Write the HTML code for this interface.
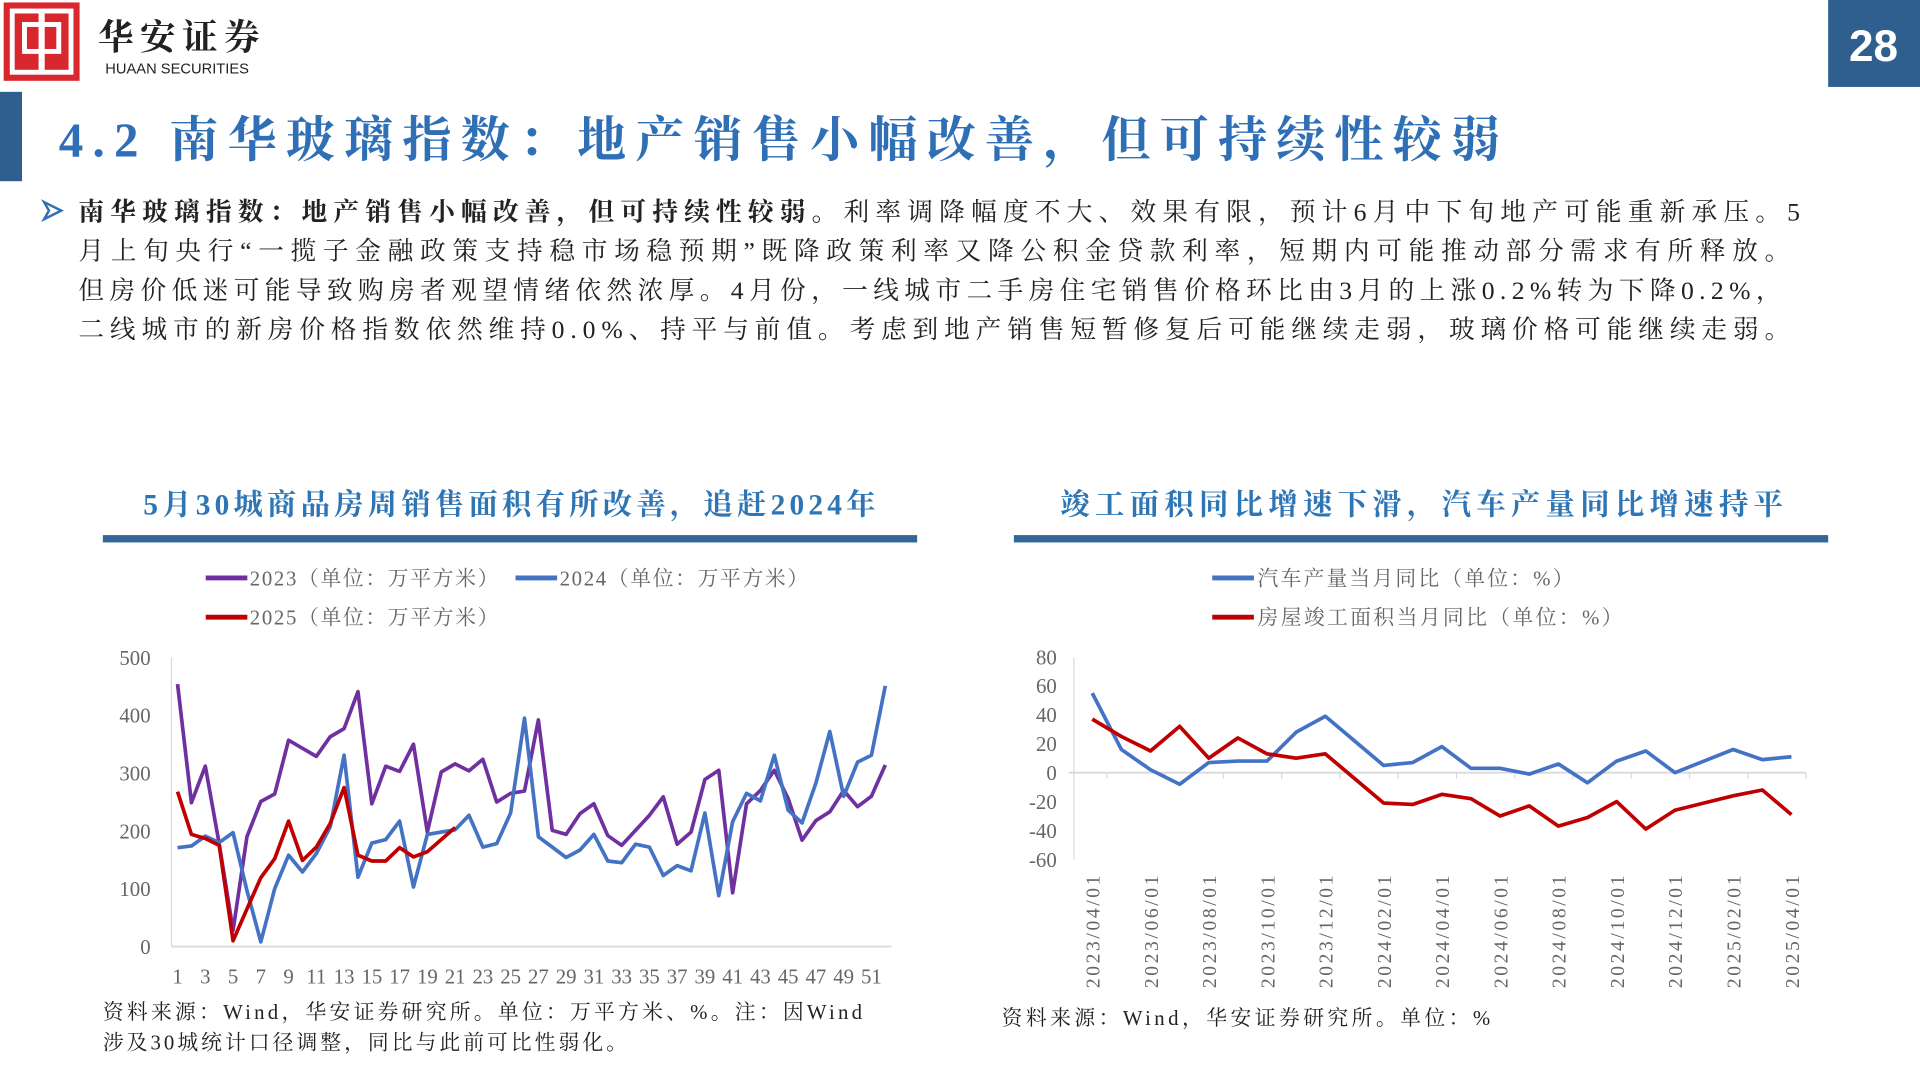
<!DOCTYPE html>
<html><head><meta charset="utf-8"><style>
html,body{margin:0;padding:0;background:#fff;width:1920px;height:1080px;overflow:hidden}
svg{display:block}
.serif{font-family:"Liberation Serif","Noto Serif CJK SC",serif}
</style></head><body>
<svg id="page" width="1920" height="1080" viewBox="0 0 1568 882" xmlns="http://www.w3.org/2000/svg" class="serif">
<g>
<rect x="3" y="2" width="62" height="64" fill="#d9272e"/>
<rect x="10" y="9" width="48" height="50" fill="none" stroke="#fff" stroke-width="4"/>
<rect x="20" y="20" width="28" height="22" fill="none" stroke="#fff" stroke-width="4"/>
<line x1="34" y1="9" x2="34" y2="59" stroke="#fff" stroke-width="5"/>
<text x="80" y="40" font-size="29" font-weight="bold" fill="#222" textLength="132" lengthAdjust="spacing">华安证券</text>
<text x="86" y="60" font-size="12" fill="#222" font-family="Liberation Sans,sans-serif">HUAAN SECURITIES</text>
</g>
<rect x="1493" y="0" width="75" height="71" fill="#2e5f8e"/>
<text x="1530" y="50" font-size="36" font-weight="bold" fill="#fff" text-anchor="middle" font-family="Liberation Sans,sans-serif">28</text>
<rect x="0" y="75" width="18" height="73" fill="#2e5f8e"/>
<text x="48" y="128" font-size="40" font-weight="bold" fill="#2f6fb5" textLength="1177" lengthAdjust="spacing">4.2 南华玻璃指数：地产销售小幅改善，但可持续性较弱</text>
<path d="M36 165 L50 172 L36 179 L40 172 Z" fill="none" stroke="#2f6fb5" stroke-width="2"/>
<g font-size="21" fill="#222">
<text x="64" y="180" textLength="1406" lengthAdjust="spacing"><tspan font-weight="bold">南华玻璃指数：地产销售小幅改善，但可持续性较弱。</tspan>利率调降幅度不大、效果有限，预计6月中下旬地产可能重新承压。5</text>
<text x="64" y="212" textLength="1398" lengthAdjust="spacing">月上旬央行“一揽子金融政策支持稳市场稳预期”既降政策利率又降公积金贷款利率，短期内可能推动部分需求有所释放。</text>
<text x="64" y="244" textLength="1391" lengthAdjust="spacing">但房价低迷可能导致购房者观望情绪依然浓厚。4月份，一线城市二手房住宅销售价格环比由3月的上涨0.2%转为下降0.2%，</text>
<text x="64" y="276" textLength="1398" lengthAdjust="spacing">二线城市的新房价格指数依然维持0.0%、持平与前值。考虑到地产销售短暂修复后可能继续走弱，玻璃价格可能继续走弱。</text>
</g>
<text x="117" y="420" font-size="24" font-weight="bold" fill="#2e75b6" textLength="598" lengthAdjust="spacing">5月30城商品房周销售面积有所改善，追赶2024年</text>
<rect x="84" y="437" width="665" height="6" fill="#336699"/>
<text x="866" y="420" font-size="24" font-weight="bold" fill="#2e75b6" textLength="590" lengthAdjust="spacing">竣工面积同比增速下滑，汽车产量同比增速持平</text>
<rect x="828" y="437" width="665" height="6" fill="#336699"/>
<g font-size="17" fill="#666">
<line x1="168" y1="472" x2="202" y2="472" stroke="#7030a0" stroke-width="4"/><text x="204" y="478" textLength="203" lengthAdjust="spacing">2023（单位：万平方米）</text>
<line x1="421" y1="472" x2="455" y2="472" stroke="#4472c4" stroke-width="4"/><text x="457" y="478" textLength="203" lengthAdjust="spacing">2024（单位：万平方米）</text>
<line x1="168" y1="504" x2="202" y2="504" stroke="#c00000" stroke-width="4"/><text x="204" y="510" textLength="203" lengthAdjust="spacing">2025（单位：万平方米）</text>
</g>
<g font-size="17" fill="#666">
<line x1="990" y1="472" x2="1024" y2="472" stroke="#4472c4" stroke-width="4"/><text x="1027" y="478" textLength="258" lengthAdjust="spacing">汽车产量当月同比（单位：%）</text>
<line x1="990" y1="504" x2="1024" y2="504" stroke="#c00000" stroke-width="4"/><text x="1027" y="510" textLength="298" lengthAdjust="spacing">房屋竣工面积当月同比（单位：%）</text>
</g>
<g id="leftChart"></g>
<g id="rightChart"></g>
<g font-size="17" fill="#222">
<text x="84" y="832" textLength="620" lengthAdjust="spacing">资料来源：Wind，华安证券研究所。单位：万平方米、%。注：因Wind</text>
<text x="84" y="857" textLength="428" lengthAdjust="spacing">涉及30城统计口径调整，同比与此前可比性弱化。</text>
<text x="818" y="837" textLength="399" lengthAdjust="spacing">资料来源：Wind，华安证券研究所。单位：%</text>
</g>
</svg>
<script>
const weeks = Array.from({length:52},(_,i)=>i+1);
const s2023 = [454,249,312,178,28,190,251,264,357,343,329,363,377,441,247,312,303,350,198,302,316,304,324,250,265,269,392,201,194,230,247,192,175,201,227,259,177,198,289,305,93,247,270,305,256,184,218,233,270,242,260,314];
const s2024 = [171,174,191,180,197,97,8,100,158,129,161,207,331,120,179,185,217,103,194,198,202,227,172,178,231,395,190,172,154,167,194,148,145,177,172,123,140,131,231,88,216,265,252,331,236,214,283,372,260,319,331,451];
const s2025 = [268,194,187,175,10,65,119,152,217,149,172,213,275,158,148,148,171,155,164,185,206];
const leftTicks = [0,100,200,300,400,500];
const months = ["2023/04/01","2023/05/01","2023/06/01","2023/07/01","2023/08/01","2023/09/01","2023/10/01","2023/11/01","2023/12/01","2024/01/01","2024/02/01","2024/03/01","2024/04/01","2024/05/01","2024/06/01","2024/07/01","2024/08/01","2024/09/01","2024/10/01","2024/11/01","2024/12/01","2025/01/01","2025/02/01","2025/03/01","2025/04/01"];
const carYoY = [55,16,2,-8,7,8,8,28,39,22,5,7,18,3,3,-1,6,-7,8,15,0,8,16,9,11];
const completionYoY = [37,25,15,32,10,24,13,10,13,-4,-21,-22,-15,-18,-30,-23,-37,-31,-20,-39,-26,-21,-16,-12,-29];
const rightTicks = [-60,-40,-20,0,20,40,60,80];
const NS="http://www.w3.org/2000/svg";
function mk(parent,tag,attrs,txt){const e=document.createElementNS(NS,tag);for(const k in attrs)e.setAttribute(k,attrs[k]);if(txt!==undefined)e.textContent=txt;parent.appendChild(e);return e;}
(function(){
 const g=document.getElementById('leftChart');
 const x=i=>145+(i)*(578/51), y=v=>773-v*(236/500);
 let e=mk(g,'line',{x1:140,y1:537,x2:140,y2:773,stroke:'#d9d9d9','stroke-width':1});
 
 
 e=mk(g,'line',{x1:140,y1:773,x2:728,y2:773,stroke:'#d9d9d9','stroke-width':1.5});
 
 
 leftTicks.forEach(t=>{const l=mk(g,'text',{x:123,y:y(t)+6,'font-size':17,fill:'#666','text-anchor':'end'},t);
  
  });
 weeks.forEach((w,i)=>{if(w%2===1){const l=mk(g,'text',{x:x(i),y:803,'font-size':17,fill:'#666','text-anchor':'middle'},w);
  
  }});
 [[s2023,'#7030a0','series-2023'],[s2024,'#4472c4','series-2024'],[s2025,'#c00000','series-2025']].forEach(([d,c,n])=>{
  const p=mk(g,'polyline',{points:d.map((v,i)=>x(i)+','+y(v)).join(' '),fill:'none',stroke:c,'stroke-width':3,'stroke-linejoin':'round'});
  
  });
})();
(function(){
 const g=document.getElementById('rightChart');
 const x=i=>892+i*(571/24), y=v=>631-v*(94.5/80);
 let e=mk(g,'line',{x1:877,y1:537,x2:877,y2:702,stroke:'#d9d9d9','stroke-width':1});
 
 
 e=mk(g,'line',{x1:873,y1:y(0),x2:1475,y2:y(0),stroke:'#d9d9d9','stroke-width':1.5});
 
 
 rightTicks.forEach(t=>{const l=mk(g,'text',{x:863,y:y(t)+6,'font-size':17,fill:'#666','text-anchor':'end'},t);
  
  });
 months.forEach((m,i)=>{
  if(i%2===0){
   const tk=mk(g,'line',{x1:x(i)+11.9,y1:y(0),x2:x(i)+11.9,y2:y(0)+5,stroke:'#d9d9d9'});
   
   
   const l=mk(g,'text',{x:0,y:0,'font-size':16,fill:'#666','text-anchor':'end',textLength:92,lengthAdjust:'spacing',transform:'translate('+(x(i)+6)+',715) rotate(-90)'},m);
   
   }
 });
 [[carYoY,'#4472c4','car-production-yoy'],[completionYoY,'#c00000','completion-area-yoy']].forEach(([d,c,n])=>{
  const p=mk(g,'polyline',{points:d.map((v,i)=>x(i)+','+y(v)).join(' '),fill:'none',stroke:c,'stroke-width':3,'stroke-linejoin':'round'});
  
  });
})();
</script>
</body></html>
